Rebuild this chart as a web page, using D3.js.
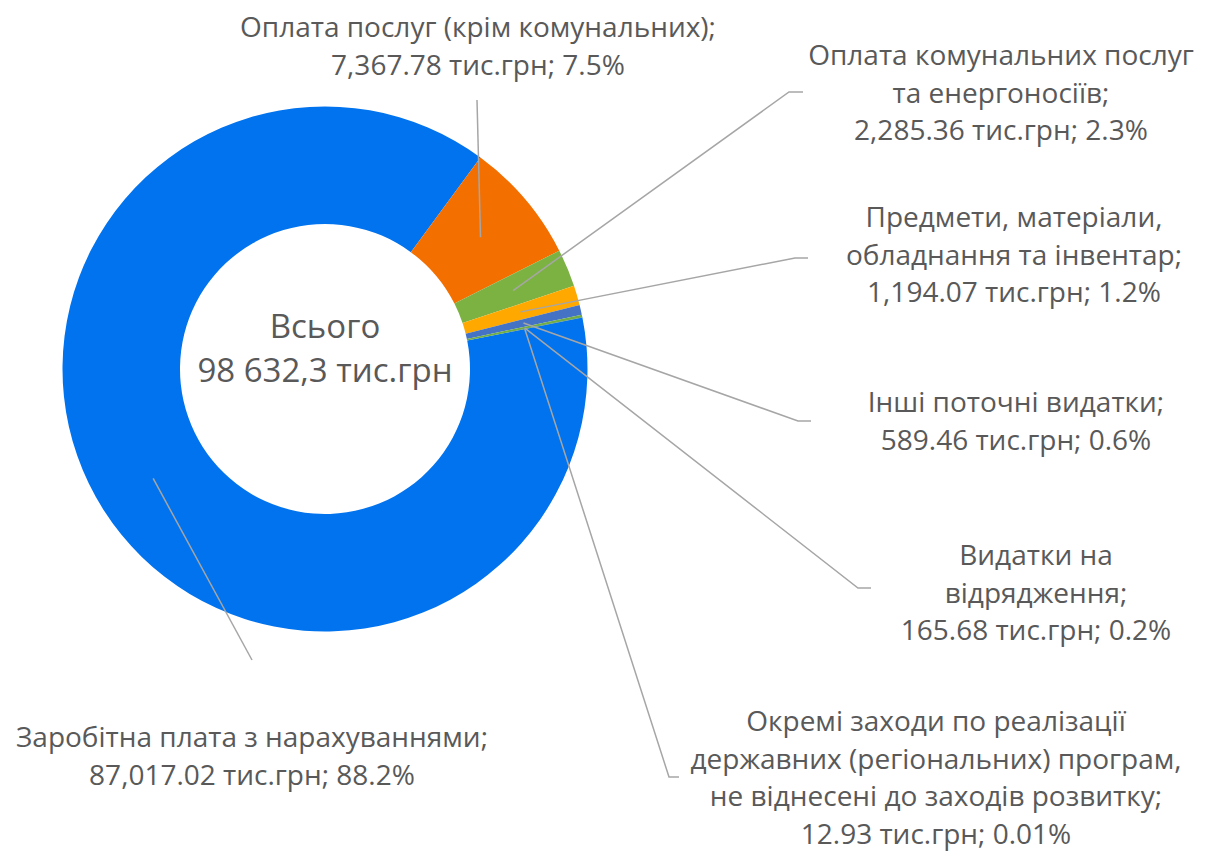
<!DOCTYPE html>
<html>
<head>
<meta charset="utf-8">
<script src="https://cdn.jsdelivr.net/npm/d3@7"></script>
<style>
  body { margin: 0; background: #fff; }
  svg text { font-family: "Open Sans", "Noto Sans", sans-serif; fill: #595959; }
</style>
</head>
<body>
<div id="chart"></div>
<script>
// дані
var categories = [
  'Заробітна плата з нарахуваннями',
  'Оплата послуг (крім комунальних)',
  'Оплата комунальних послуг та енергоносіїв',
  'Предмети, матеріали, обладнання та інвентар',
  'Інші поточні видатки',
  'Видатки на відрядження',
  'Окремі заходи по реалізації державних (регіональних) програм, не віднесені до заходів розвитку'
];
var values = [87017.02, 7367.78, 2285.36, 1194.07, 589.46, 165.68, 12.93];
var totalLabel = ['Всього', '98 632,3 тис.грн'];

// рядки підписів (перенос як на картинці)
var labelLines = [
  ['Заробітна плата з нарахуваннями;'],
  ['Оплата послуг (крім комунальних);'],
  ['Оплата комунальних послуг', 'та енергоносіїв;'],
  ['Предмети, матеріали,', 'обладнання та інвентар;'],
  ['Інші поточні видатки;'],
  ['Видатки на', 'відрядження;'],
  ['Окремі заходи по реалізації', 'державних (регіональних) програм,', 'не віднесені до заходів розвитку;']
];

var colors = ['#0173EE', '#F36F00', '#7CB242', '#FFA800', '#4472C4', '#70AD47', '#255E91'];

// розміщення підписів: центр тексту, перша базова лінія, точки лінії-виноски
var labelPos = [
  { x: 252, y: 747, pts: [[252, 660]] },
  { x: 478, y: 37, pts: [[477, 100]] },
  { x: 1001, y: 65, pts: [[789, 92], [803, 92]] },
  { x: 1014, y: 227, pts: [[795, 258], [808, 258]] },
  { x: 1016, y: 412, pts: [[798, 421], [811, 421]] },
  { x: 1036, y: 565, pts: [[858, 588], [871, 588]] },
  { x: 936, y: 731, pts: [[669, 777], [679, 777]] }
];

var width = 1214, height = 852;
var cx = 325, cy = 369, rOuter = 262.5, rInner = 145;
var lineH = 37.5;

var total = d3.sum(values);
var fmtVal = d3.format(',.2f');
var fmtPct = function(v){
  var p = v / total;
  return p < 0.001 ? d3.format('.2%')(p) : d3.format('.1%')(p);
};

var svg = d3.select('#chart').append('svg')
  .attr('width', width)
  .attr('height', height);

var startA = 78.7 * Math.PI / 180;
var pie = d3.pie().sort(null).startAngle(startA).endAngle(startA + 2 * Math.PI);
var arcs = pie(values);
var arc = d3.arc().innerRadius(rInner).outerRadius(rOuter);

var g = svg.append('g').attr('transform', 'translate(' + cx + ',' + cy + ')');

g.selectAll('path.slice')
  .data(arcs)
  .enter().append('path')
  .attr('class', 'slice')
  .attr('d', arc)
  .attr('fill', function(d, i){ return colors[i]; });

// лінії-виноски
var line = d3.line();
svg.selectAll('path.leader')
  .data(arcs)
  .enter().append('path')
  .attr('class', 'leader')
  .attr('d', function(d, i){
    var c = arc.centroid(d);
    var pts = [[c[0] + cx, c[1] + cy]].concat(labelPos[i].pts);
    return line(pts);
  })
  .attr('fill', 'none')
  .attr('stroke', '#A6A6A6')
  .attr('stroke-width', 1.5);

// підписи
var labels = svg.selectAll('text.lbl')
  .data(arcs)
  .enter().append('text')
  .attr('class', 'lbl')
  .attr('text-anchor', 'middle')
  .style('font-size', '28px');

labels.each(function(d, i){
  var t = d3.select(this);
  var lines = labelLines[i].concat([fmtVal(values[i]) + ' тис.грн; ' + fmtPct(values[i])]);
  lines.forEach(function(s, k){
    t.append('tspan')
      .attr('x', labelPos[i].x)
      .attr('y', labelPos[i].y + k * lineH)
      .text(s);
  });
});

// центр
var ct = svg.append('text')
  .attr('text-anchor', 'middle')
  .style('font-size', '33px');
totalLabel.forEach(function(s, k){
  ct.append('tspan')
    .attr('x', cx)
    .attr('y', 338 + k * 44)
    .text(s);
});
</script>
</body>
</html>
